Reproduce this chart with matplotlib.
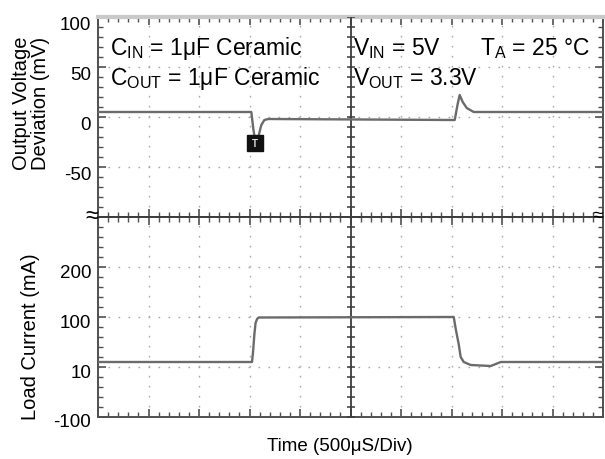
import matplotlib.pyplot as plt
from matplotlib.ticker import MultipleLocator, FixedLocator, FixedFormatter
import matplotlib.transforms as mtransforms

plt.rcParams['font.family'] = ['Liberation Sans', 'DejaVu Sans']
plt.rcParams['mathtext.fontset'] = 'custom'
plt.rcParams['mathtext.rm'] = 'Liberation Sans'
plt.rcParams['mathtext.it'] = 'Liberation Sans:italic'

# Output voltage deviation trace (time in us, deviation in mV)
vout_t = [0, 1518, 1538, 1558, 1587, 1617, 1647, 1687, 3532, 3561, 3581, 3611, 3651, 3720, 5000]
vout_mv = [5, 5, -12, -25, -20, -8, -3, -2, -3, 13, 22, 15, 9, 5, 5]

# Load current trace (time in us, current in mA)
iload_t = [0, 1525, 1535, 1548, 1560, 1575, 1590, 3522, 3542, 3571, 3591, 3621, 3690, 3889, 3988, 5000]
iload_ma = [10, 10, 30, 65, 88, 96, 99, 100, 76, 46, 20, 10, 4, 2, 10, 10]

# trigger marker on the voltage trace
trig_t = 1558
trig_mv = -26

top_ticks = [100, 50, 0, -50]
top_labels = ['100', '50', '0', '-50']
bot_ticks = [-100, 0, 100, 200, 300]
bot_labels = ['-100', '10', '100', '200', '']

trace_color = '#6b6b6b'
dark = '#505050'
grid_color = '#a8a8a8'

fig = plt.figure(figsize=(6.05, 4.6), dpi=100)
ax1 = fig.add_axes([98 / 605, 242 / 460, 505 / 605, 200 / 460])
ax2 = fig.add_axes([98 / 605, 42 / 460, 505 / 605, 200 / 460], sharex=ax1)

for ax in (ax1, ax2):
    ax.set_xlim(0, 5000)
    ax.xaxis.set_major_locator(MultipleLocator(500))
    ax.xaxis.set_minor_locator(MultipleLocator(100))
    ax.tick_params(axis='both', which='both', direction='in', color=dark,
                   top=True, bottom=True, left=True, right=True,
                   labelbottom=False, labelsize=13.5, pad=5)
    ax.tick_params(which='major', length=6, width=1.2)
    ax.tick_params(which='minor', length=3.5, width=1.0)
    ax.grid(True, which='major', color=grid_color, linestyle=(0, (1.2, 6.0)), lw=1)
    for s in ax.spines.values():
        s.set_color(dark)
        s.set_linewidth(1.4)
    ax.axvline(2500, color='#3c3c3c', lw=1.3, zorder=3)

# top panel
ax1.set_ylim(-100, 100)
ax1.yaxis.set_major_locator(FixedLocator([-100, -50, 0, 50, 100]))
ax1.yaxis.set_minor_locator(MultipleLocator(10))
ax1.set_yticks(top_ticks)
ax1.set_yticklabels(top_labels)
ax1.spines['top'].set_color('#c9c9c9')
ax1.spines['top'].set_linewidth(3)
ax1.spines['bottom'].set_color('#3c3c3c')
for lbl in ax1.get_yticklabels():
    lbl.set_transform(lbl.get_transform() + mtransforms.ScaledTranslation(0, -6 / 100, fig.dpi_scale_trans))

# center tick marks on the vertical crosshair
minor_y1 = list(range(-100, 101, 10))
ax1.plot([2500] * len(minor_y1), minor_y1, ls='none', marker='_', ms=6, mew=1.1, color='#3c3c3c', zorder=3)

ax1.plot(vout_t, vout_mv, color=trace_color, lw=1.7, zorder=4)
ax1.plot([trig_t], [trig_mv], marker='s', ms=11, color='#111111', zorder=5)
ax1.text(trig_t, trig_mv, 'T', color='#dddddd', fontsize=7, fontweight='bold',
         ha='center', va='center', zorder=6)

# bottom panel
ax2.set_ylim(-100, 300)
ax2.yaxis.set_minor_locator(MultipleLocator(20))
ax2.yaxis.set_major_locator(FixedLocator(bot_ticks))
ax2.yaxis.set_major_formatter(FixedFormatter(bot_labels))
ax2.spines['top'].set_color('#3c3c3c')
for lbl in ax2.get_yticklabels():
    lbl.set_transform(lbl.get_transform() + mtransforms.ScaledTranslation(0, -3 / 100, fig.dpi_scale_trans))

minor_y2 = list(range(-100, 301, 20))
ax2.plot([2500] * len(minor_y2), minor_y2, ls='none', marker='_', ms=6, mew=1.1, color='#3c3c3c', zorder=3)

ax2.plot(iload_t, iload_ma, color=trace_color, lw=1.7, zorder=4)

# annotations
fs = 16.5
ax1.text(0.024, 0.815, r'C$_{\mathrm{IN}}$ = 1μF Ceramic', transform=ax1.transAxes, fontsize=fs, va='baseline')
ax1.text(0.024, 0.665, r'C$_{\mathrm{OUT}}$ = 1μF Ceramic', transform=ax1.transAxes, fontsize=fs, va='baseline')
ax1.text(0.505, 0.815, r'V$_{\mathrm{IN}}$ = 5V', transform=ax1.transAxes, fontsize=fs, va='baseline')
ax1.text(0.756, 0.815, r'T$_{\mathrm{A}}$ = 25 °C', transform=ax1.transAxes, fontsize=fs, va='baseline')
ax1.text(0.505, 0.665, r'V$_{\mathrm{OUT}}$ = 3.3V', transform=ax1.transAxes, fontsize=fs, va='baseline')

fig.text(31 / 605, 1 - 103 / 460, 'Output Voltage\nDeviation (mV)', rotation=90,
         ha='center', va='center', fontsize=14.5, linespacing=1.05)
fig.text(30.5 / 605, 1 - 337 / 460, 'Load Current (mA)', rotation=90,
         ha='center', va='center', fontsize=14.5)
fig.text(340 / 605, 1 - 447 / 460, 'Time (500μS/Div)', ha='center', va='center', fontsize=13.5)

# axis break marks
fig.text(92 / 605, 1 - 217 / 460, '≈', ha='center', va='center', fontsize=17)
fig.text(598 / 605, 1 - 217 / 460, '≈', ha='center', va='center', fontsize=14)

fig.savefig('out.png', dpi=100)
